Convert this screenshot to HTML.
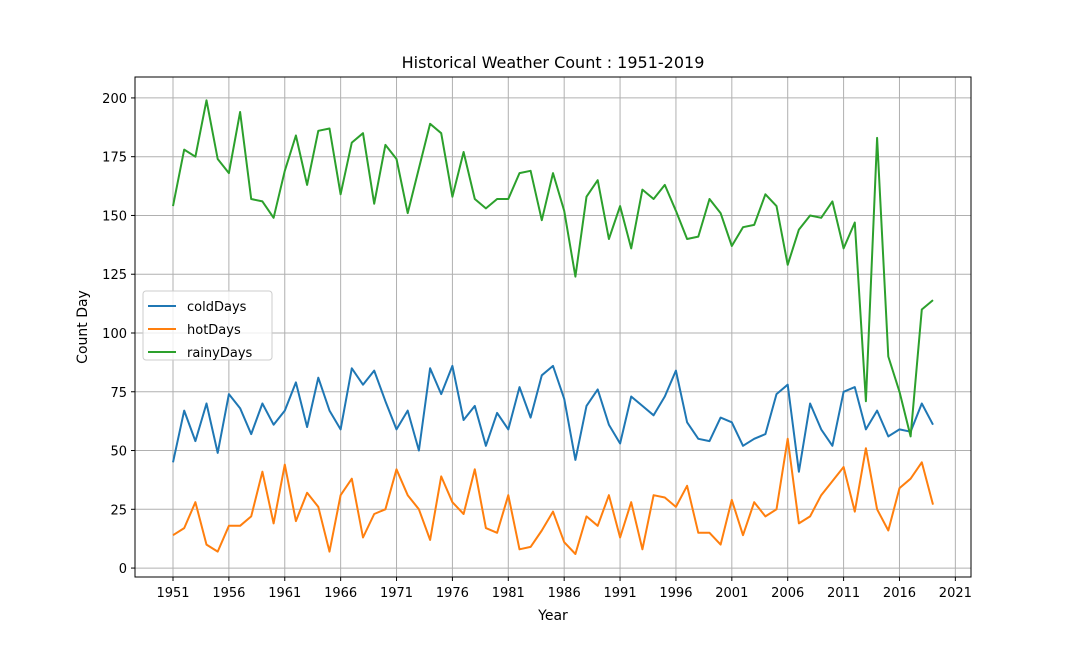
<!DOCTYPE html>
<html><head><meta charset="utf-8"><style>
body{margin:0;background:#fff;}
svg text{font-family:"DejaVu Sans","Liberation Sans",sans-serif;fill:#000;}
</style></head><body>
<svg id="chart" width="1080" height="648" xmlns="http://www.w3.org/2000/svg">
<rect width="1080" height="648" fill="#fff"/>
<g id="grid"></g>
<g id="lines"></g>
<rect x="135" y="77" width="836" height="500" fill="none" stroke="#000" stroke-width="1"/>
<g id="ticks"></g>
<text x="553" y="68" font-size="16" text-anchor="middle">Historical Weather Count : 1951-2019</text>
<text x="553" y="620" font-size="14" text-anchor="middle">Year</text>
<text transform="translate(87,327) rotate(-90)" font-size="14" text-anchor="middle">Count Day</text>
<g id="legend">
<rect x="143" y="291" width="129" height="69" rx="3" fill="#fff" fill-opacity="0.8" stroke="#ccc"/>
</g>
</svg>
<script>
const years=[];for(let y=1951;y<=2019;y++)years.push(y);
const coldDays=[45,67,54,70,49,74,68,57,70,61,67,79,60,81,67,59,85,78,84,71,59,67,50,85,74,86,63,69,52,66,59,77,64,82,86,72,46,69,76,61,53,73,69,65,73,84,62,55,54,64,62,52,55,57,74,78,41,70,59,52,75,77,59,67,56,59,58,70,61];
const hotDays=[14,17,28,10,7,18,18,22,41,19,44,20,32,26,7,31,38,13,23,25,42,31,25,12,39,28,23,42,17,15,31,8,9,16,24,11,6,22,18,31,13,28,8,31,30,26,35,15,15,10,29,14,28,22,25,55,19,22,31,37,43,24,51,25,16,34,38,45,27];
const rainyDays=[154,178,175,199,174,168,194,157,156,149,169,184,163,186,187,159,181,185,155,180,174,151,170,189,185,158,177,157,153,157,157,168,169,148,168,152,124,158,165,140,154,136,161,157,163,152,140,141,157,151,137,145,146,159,154,129,144,150,149,156,136,147,71,183,90,75,56,110,114];
const xTicks=[1951,1956,1961,1966,1971,1976,1981,1986,1991,1996,2001,2006,2011,2016,2021];
const yTicks=[0,25,50,75,100,125,150,175,200];
const seriesNames=["coldDays","hotDays","rainyDays"];
const colors=["#1f77b4","#ff7f0e","#2ca02c"];
const L=135,R=971,T=77,B=577,xmin=1947.6,xmax=2022.4,ymin=-3.8,ymax=208.9;
const X=v=>L+(v-xmin)/(xmax-xmin)*(R-L);
const Y=v=>B-(v-ymin)/(ymax-ymin)*(B-T);
const NS="http://www.w3.org/2000/svg";
function mk(tag,attrs,parent){const e=document.createElementNS(NS,tag);for(const k in attrs)e.setAttribute(k,attrs[k]);parent.appendChild(e);return e;}
const grid=document.getElementById('grid'),ticks=document.getElementById('ticks'),lines=document.getElementById('lines'),legend=document.getElementById('legend');
xTicks.forEach(t=>{const x=X(t);
const g=mk('line',{x1:x,x2:x,y1:T,y2:B,stroke:'#b0b0b0','stroke-width':1},grid);


const tk=mk('line',{x1:x,x2:x,y1:B,y2:B+4,stroke:'#000'},ticks);


const tx=mk('text',{x:x,y:B+20,'font-size':13,'text-anchor':'middle'},ticks);tx.textContent=t;


});
yTicks.forEach(t=>{const y=Y(t);
const g=mk('line',{x1:L,x2:R,y1:y,y2:y,stroke:'#b0b0b0','stroke-width':1},grid);


const tk=mk('line',{x1:L-4,x2:L,y1:y,y2:y,stroke:'#000'},ticks);


const tx=mk('text',{x:L-8,y:y+5,'font-size':13,'text-anchor':'end'},ticks);tx.textContent=t;


});
[coldDays,hotDays,rainyDays].forEach((s,i)=>{
const pts=s.map((v,j)=>X(years[j]).toFixed(1)+','+Y(v).toFixed(1)).join(' ');
const p=mk('polyline',{points:pts,fill:'none',stroke:colors[i],'stroke-width':2,'stroke-linejoin':'round'},lines);


const ly=306+i*23;
const ll=mk('line',{x1:148,x2:176,y1:ly,y2:ly,stroke:colors[i],'stroke-width':2},legend);


const lt=mk('text',{x:187,y:ly+5,'font-size':13},legend);lt.textContent=seriesNames[i];


});
</script>
</body></html>
